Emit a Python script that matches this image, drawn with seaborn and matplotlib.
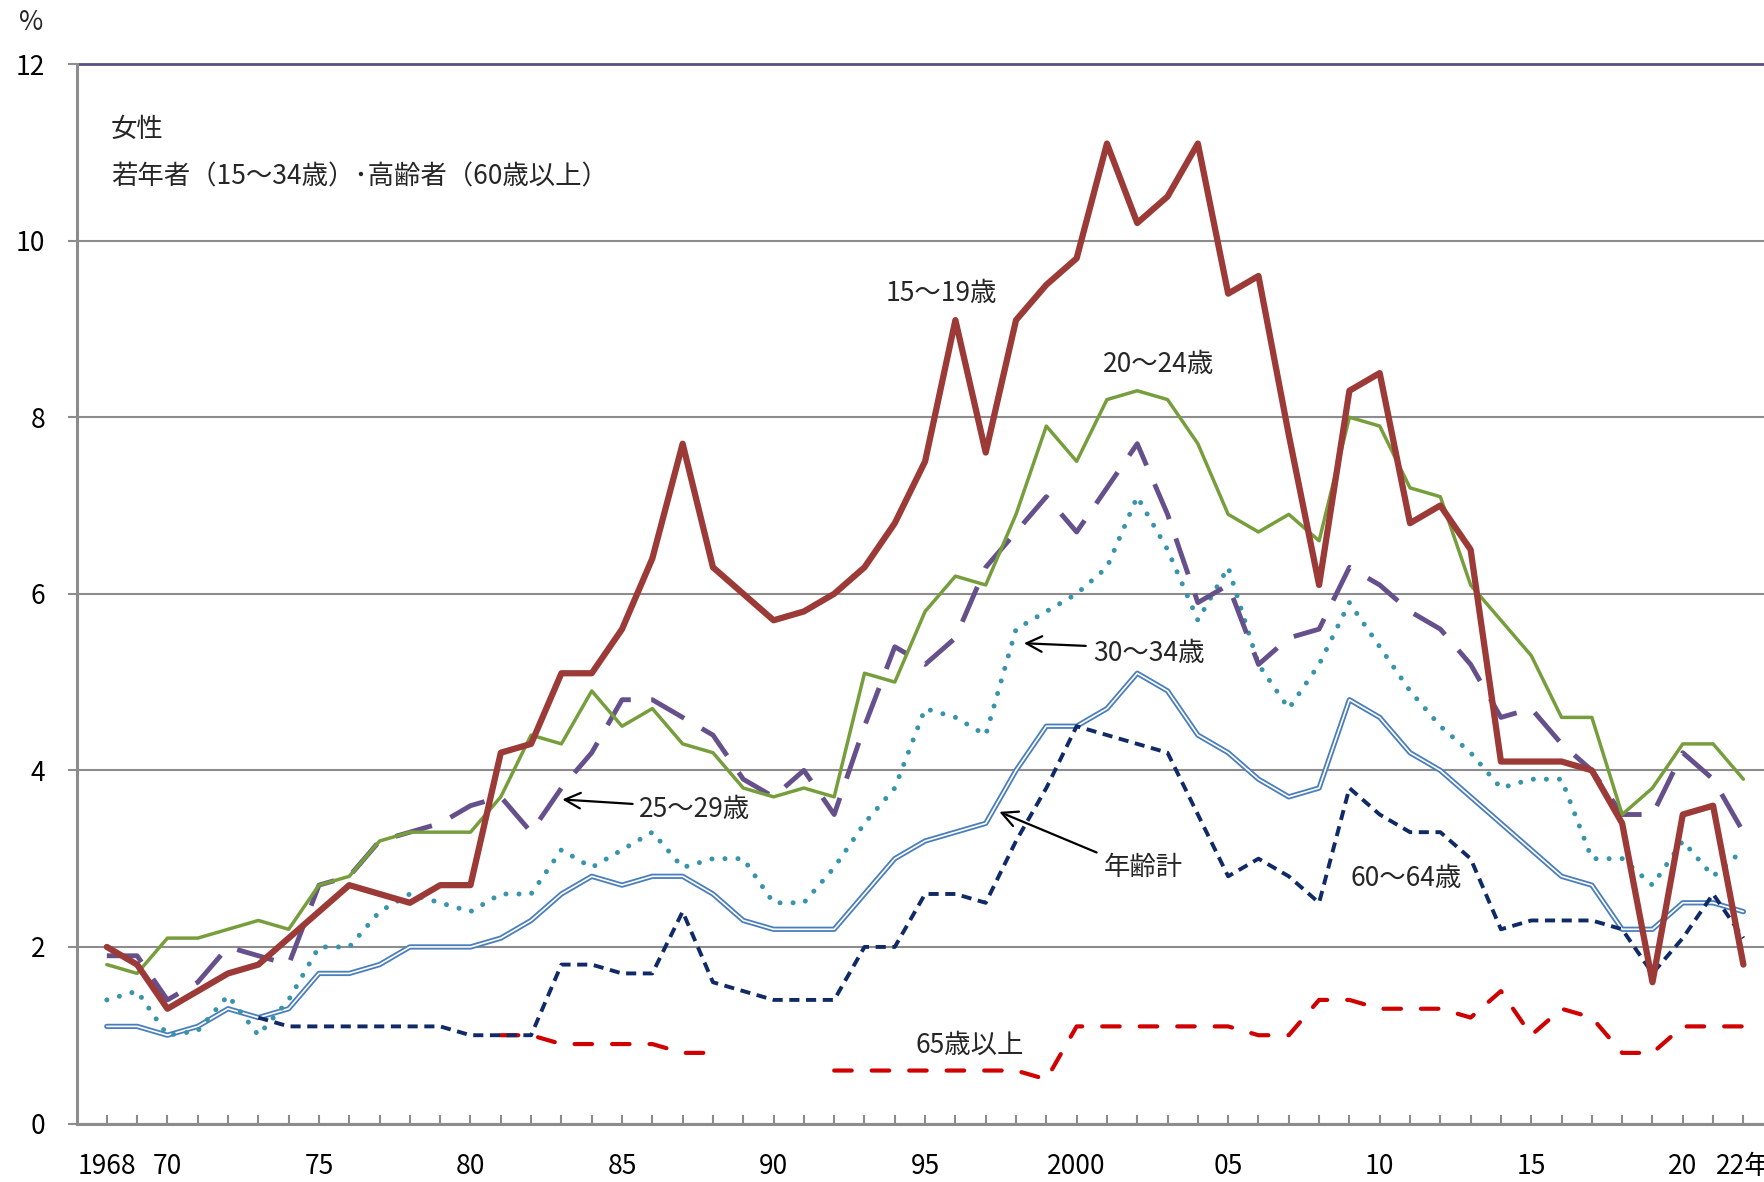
import numpy as np
import pandas as pd
import matplotlib
matplotlib.use("Agg")
import matplotlib.pyplot as plt
import seaborn as sns

years = list(range(1968, 2023))

age_15_19 = [2.0, 1.8, 1.3, 1.5, 1.7, 1.8, 2.1, 2.4, 2.7, 2.6, 2.5, 2.7, 2.7,
             4.2, 4.3, 5.1, 5.1, 5.6, 6.4, 7.7, 6.3, 6.0, 5.7, 5.8, 6.0, 6.3,
             6.8, 7.5, 9.1, 7.6, 9.1, 9.5, 9.8, 11.1, 10.2, 10.5, 11.1, 9.4,
             9.6, 7.8, 6.1, 8.3, 8.5, 6.8, 7.0, 6.5, 4.1, 4.1, 4.1, 4.0, 3.4,
             1.6, 3.5, 3.6, 1.8]
age_20_24 = [1.8, 1.7, 2.1, 2.1, 2.2, 2.3, 2.2, 2.7, 2.8, 3.2, 3.3, 3.3, 3.3,
             3.7, 4.4, 4.3, 4.9, 4.5, 4.7, 4.3, 4.2, 3.8, 3.7, 3.8, 3.7, 5.1,
             5.0, 5.8, 6.2, 6.1, 6.9, 7.9, 7.5, 8.2, 8.3, 8.2, 7.7, 6.9, 6.7,
             6.9, 6.6, 8.0, 7.9, 7.2, 7.1, 6.1, 5.7, 5.3, 4.6, 4.6, 3.5, 3.8,
             4.3, 4.3, 3.9]
age_25_29 = [1.9, 1.9, 1.4, 1.6, 2.0, 1.9, 1.8, 2.7, 2.8, 3.2, 3.3, 3.4, 3.6,
             3.7, 3.3, 3.8, 4.2, 4.8, 4.8, 4.6, 4.4, 3.9, 3.7, 4.0, 3.5, 4.5,
             5.4, 5.2, 5.5, 6.3, 6.7, 7.1, 6.7, 7.2, 7.7, 6.9, 5.9, 6.1, 5.2,
             5.5, 5.6, 6.3, 6.1, 5.8, 5.6, 5.2, 4.6, 4.7, 4.3, 4.0, 3.5, 3.5,
             4.2, 3.9, 3.3]
age_30_34 = [1.4, 1.5, 1.0, 1.05, 1.45, 1.0, 1.4, 2.0, 2.0, 2.4, 2.6, 2.5, 2.4,
             2.6, 2.6, 3.1, 2.9, 3.1, 3.3, 2.9, 3.0, 3.0, 2.5, 2.5, 2.9, 3.4,
             3.8, 4.7, 4.6, 4.4, 5.6, 5.8, 6.0, 6.3, 7.1, 6.5, 5.7, 6.3, 5.2,
             4.7, 5.2, 5.9, 5.4, 4.9, 4.5, 4.2, 3.8, 3.9, 3.9, 3.0, 3.0, 2.7,
             3.2, 2.8, 3.1]
total = [1.1, 1.1, 1.0, 1.1, 1.3, 1.2, 1.3, 1.7, 1.7, 1.8, 2.0, 2.0, 2.0,
         2.1, 2.3, 2.6, 2.8, 2.7, 2.8, 2.8, 2.6, 2.3, 2.2, 2.2, 2.2, 2.6,
         3.0, 3.2, 3.3, 3.4, 4.0, 4.5, 4.5, 4.7, 5.1, 4.9, 4.4, 4.2, 3.9,
         3.7, 3.8, 4.8, 4.6, 4.2, 4.0, 3.7, 3.4, 3.1, 2.8, 2.7, 2.2, 2.2,
         2.5, 2.5, 2.4]
nan = np.nan
age_60_64 = [nan, nan, nan, nan, nan, 1.2, 1.1, 1.1, 1.1, 1.1, 1.1, 1.1, 1.0,
             1.0, 1.0, 1.8, 1.8, 1.7, 1.7, 2.4, 1.6, 1.5, 1.4, 1.4, 1.4, 2.0,
             2.0, 2.6, 2.6, 2.5, 3.2, 3.8, 4.5, 4.4, 4.3, 4.2, 3.5, 2.8, 3.0,
             2.8, 2.5, 3.8, 3.5, 3.3, 3.3, 3.0, 2.2, 2.3, 2.3, 2.3, 2.2, 1.7,
             2.1, 2.6, 2.1]
age_65_over = [nan, nan, nan, nan, nan, nan, nan, nan, nan, nan, nan, nan, nan,
               1.0, 1.0, 0.9, 0.9, 0.9, 0.9, 0.8, 0.8, nan, nan, nan, 0.6, 0.6,
               0.6, 0.6, 0.6, 0.6, 0.6, 0.5, 1.1, 1.1, 1.1, 1.1, 1.1, 1.1, 1.0,
               1.0, 1.4, 1.4, 1.3, 1.3, 1.3, 1.2, 1.5, 1.0, 1.3, 1.2, 0.8, 0.8,
               1.1, 1.1, 1.1]

x_tick_labels = {1968: "1968", 1970: "70", 1975: "75", 1980: "80", 1985: "85",
                 1990: "90", 1995: "95", 2000: "2000", 2005: "05", 2010: "10",
                 2015: "15", 2020: "20", 2022: "22年"}
y_ticks = [0, 2, 4, 6, 8, 10, 12]

title_1 = "女性"
title_2 = "若年者（15～34歳）･高齢者（60歳以上）"

sns.set_theme(style="white")
plt.rcParams["font.family"] = ["Noto Sans CJK JP", "DejaVu Sans"]

FS = 19
fig = plt.figure(figsize=(17.64, 11.82), dpi=100)
ax = fig.add_axes([0.04337, 0.04948, 0.95663, 0.8963])

GRAY = "#8C8C8C"


def draw(vals, **kw):
    df = pd.DataFrame({"year": years, "v": vals})
    df["seg"] = df["v"].isna().cumsum()
    df = df.dropna()
    sns.lineplot(data=df, x="year", y="v", units="seg", estimator=None,
                 ax=ax, legend=False, **kw)


# 年齢計 (double line)
draw(total, color="#4A7EBB", linewidth=3.8, zorder=3)
draw(total, color="white", linewidth=1.2, zorder=3.1)
# 65歳以上
draw(age_65_over, color="#D00000", linewidth=3.0,
     linestyle=(0, (4.2, 4.8)), dash_capstyle="round", zorder=3.2)
# 60～64歳
draw(age_60_64, color="#0F2A66", linewidth=2.8,
     linestyle=(0, (2.6, 1.7)), zorder=3.3)
# 30～34歳
draw(age_30_34, color="#3994AB", linewidth=3.6,
     linestyle=(0, (0.01, 2.6)), dash_capstyle="round", zorder=3.4)
# 25～29歳
draw(age_25_29, color="#65508C", linewidth=3.5,
     linestyle=(0, (7.8, 4.2)), zorder=3.5)
# 20～24歳
draw(age_20_24, color="#779E3D", linewidth=2.5, zorder=3.6)
# 15～19歳
draw(age_15_19, color="#9C3A37", linewidth=4.5, zorder=3.7)

ax.set_xlim(1967.0, 2022.68)
ax.set_ylim(0, 12)
ax.set_yticks(y_ticks)
ax.set_yticklabels([str(v) for v in y_ticks])
ax.set_xticks(years)
ax.set_xticklabels([x_tick_labels.get(y, "") for y in years])
ax.set_xlabel("")
ax.set_ylabel("")

ax.grid(axis="y", color=GRAY, linewidth=1.5, zorder=1)
ax.grid(axis="x", visible=False)
ax.set_axisbelow(True)
ax.axhline(12, color="#5B4E86", linewidth=2.0, clip_on=False, zorder=2)

for s in ["top", "right"]:
    ax.spines[s].set_visible(False)
for s in ["left", "bottom"]:
    ax.spines[s].set_color(GRAY)
    ax.spines[s].set_linewidth(2.2)

ax.tick_params(axis="y", direction="out", length=6.5, width=1.5, color=GRAY,
               labelsize=FS, pad=16, labelcolor="black", left=True)
ax.tick_params(axis="x", direction="in", length=6.5, width=1.5, color=GRAY,
               labelsize=FS, pad=21, labelcolor="black", bottom=True)

fig.text(31 / 1764, 1 - 23 / 1182, "%", fontsize=FS, ha="center", va="center")

dy = -0.045
ax.text(1968.13, 11.30 + dy, title_1, fontsize=FS, ha="left", va="center")
ax.text(1968.13, 10.77 + dy, title_2, fontsize=FS, ha="left", va="center")

ax.text(1995.54, 9.45 + dy, "15～19歳", fontsize=FS, ha="center", va="center")
ax.text(2002.7, 8.64 + dy, "20～24歳", fontsize=FS, ha="center", va="center")
ax.text(2002.4, 5.37 + dy, "30～34歳", fontsize=FS, ha="center", va="center")
ax.text(1987.4, 3.6 + dy, "25～29歳", fontsize=FS, ha="center", va="center")
ax.text(2002.2, 2.95 + dy, "年齢計", fontsize=FS, ha="center", va="center")
ax.text(2010.87, 2.82 + dy, "60～64歳", fontsize=FS, ha="center", va="center")
ax.text(1996.47, 0.93 + dy, "65歳以上", fontsize=FS, ha="center", va="center")

arrow_kw = dict(arrowstyle="->", color="black", lw=1.6, shrinkA=0, shrinkB=0,
                mutation_scale=28)
ax.annotate("", xy=(1998.26, 5.44), xytext=(2000.3, 5.41), arrowprops=arrow_kw)
ax.annotate("", xy=(1983.03, 3.67), xytext=(1985.35, 3.62), arrowprops=arrow_kw)
ax.annotate("", xy=(1997.45, 3.53), xytext=(2000.66, 3.07), arrowprops=arrow_kw)

fig.savefig("out.png", dpi=100)
